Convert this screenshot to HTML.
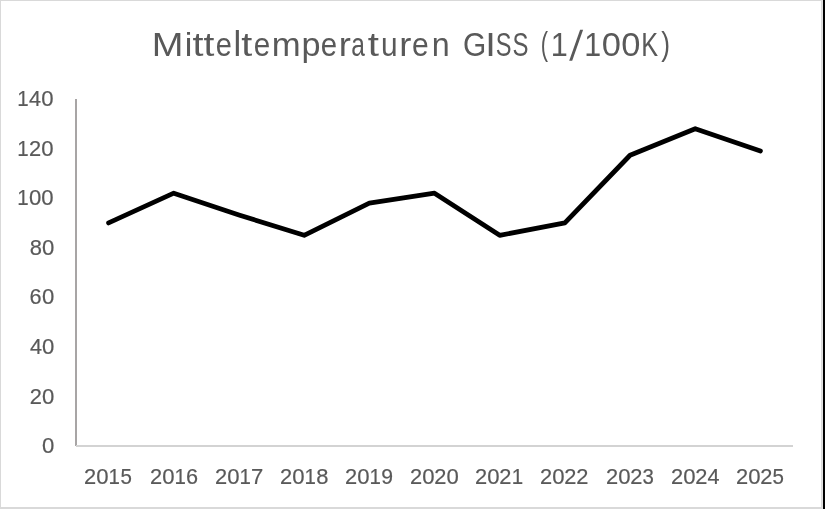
<!DOCTYPE html>
<html><head><meta charset="utf-8"><title>Chart</title>
<style>
html,body{margin:0;padding:0;background:#fff;}
body{width:825px;height:509px;overflow:hidden;}
svg{display:block;}
.g{will-change:transform;}
text{font-family:"Liberation Sans",sans-serif;fill:#595959;}
.lb{font-size:21.5px;stroke:#595959;stroke-width:0.2px;}
.tt{font-size:33.3px;}
</style></head><body>
<svg width="825" height="509" viewBox="0 0 825 509">
<rect x="0" y="0" width="825" height="509" fill="#ffffff"/>
<!-- outer borders -->
<rect x="0" y="0" width="823" height="1" fill="#d9d9d9"/>
<rect x="0" y="0" width="1" height="509" fill="#d9d9d9"/>
<rect x="0" y="507" width="823" height="2" fill="#d9d9d9"/>
<rect x="821" y="0" width="1" height="509" fill="#d9d9d9"/>
<rect x="822" y="0" width="1" height="509" fill="#e2e2e2"/>
<rect x="823" y="0" width="2" height="509" fill="#000000"/>
<!-- axes -->
<rect x="75" y="99" width="2" height="347" fill="#a8a5a5"/>
<rect x="76" y="445" width="717" height="2" fill="#d3d3d3"/>
<g class="g">
<!-- title -->
<text class="tt" transform="translate(151.73 55.75) scale(1.1425 1.0000)">M</text>
<text class="tt" transform="translate(184.67 55.75) scale(1.0250 1.0000)">i</text>
<text class="tt" transform="translate(192.40 55.75) scale(1.1877 1.0000)">t</text>
<text class="tt" transform="translate(203.61 55.75) scale(1.1759 1.0000)">t</text>
<text class="tt" transform="translate(215.77 55.75) scale(0.8704 1.0000)">e</text>
<text class="tt" transform="translate(233.61 55.75) scale(1.0421 1.0340)">l</text>
<text class="tt" transform="translate(241.30 55.75) scale(1.1877 1.0000)">t</text>
<text class="tt" transform="translate(253.74 55.75) scale(0.8896 1.0000)">e</text>
<text class="tt" transform="translate(271.70 55.75) scale(1.0415 1.0000)">m</text>
<text class="tt" transform="translate(301.59 55.75) scale(1.0284 1.0000)">p</text>
<text class="tt" transform="translate(320.75 55.75) scale(0.8832 1.0000)">e</text>
<text class="tt" transform="translate(338.68 55.75) scale(1.0931 1.0000)">r</text>
<text class="tt" transform="translate(351.26 55.75) scale(0.7366 1.0000)">a</text>
<text class="tt" transform="translate(367.69 55.75) scale(1.2112 1.0000)">t</text>
<text class="tt" transform="translate(380.96 55.75) scale(0.8978 1.0000)">u</text>
<text class="tt" transform="translate(399.28 55.75) scale(1.0931 1.0000)">r</text>
<text class="tt" transform="translate(412.12 55.75) scale(0.9024 1.0000)">e</text>
<text class="tt" transform="translate(431.86 55.75) scale(0.9685 1.0000)">n</text>
<text class="tt" transform="translate(462.99 55.75) scale(0.8993 1.0000)">G</text>
<text class="tt" transform="translate(485.29 55.75) scale(1.1431 1.0000)">I</text>
<text class="tt" transform="translate(495.63 55.75) scale(0.7094 1.0000)">S</text>
<text class="tt" transform="translate(512.61 55.75) scale(0.7199 1.0000)">S</text>
<text class="tt" transform="translate(540.74 54.76) scale(0.6569 1.0218)">(</text>
<text class="tt" transform="translate(550.67 55.75) scale(0.9194 1.0000)">1</text>
<polygon points="580.1,29.7 583.1,29.7 572.2,60.8 569.2,60.8" fill="#595959"/>
<text class="tt" transform="translate(584.19 55.75) scale(0.9124 1.0000)">1</text>
<text class="tt" transform="translate(601.75 55.75) scale(1.0365 1.0000)">0</text>
<text class="tt" transform="translate(621.15 55.75) scale(1.0365 1.0000)">0</text>
<text class="tt" transform="translate(641.13 55.75) scale(0.7590 1.0000)">K</text>
<text class="tt" transform="translate(661.25 54.76) scale(0.7928 1.0218)">)</text>
<!-- labels -->
<text class="lb" transform="translate(17.22 105.85) scale(0.9547 1.0000)">1</text>
<text class="lb" transform="translate(29.04 105.85) scale(1.0061 1.0000)">4</text>
<text class="lb" transform="translate(41.16 105.85) scale(1.0294 1.0000)">0</text>
<text class="lb" transform="translate(17.22 155.80) scale(0.9547 1.0000)">1</text>
<text class="lb" transform="translate(28.94 155.80) scale(1.0159 1.0000)">2</text>
<text class="lb" transform="translate(41.16 155.80) scale(1.0294 1.0000)">0</text>
<text class="lb" transform="translate(17.22 204.80) scale(0.9547 1.0000)">1</text>
<text class="lb" transform="translate(29.10 204.80) scale(1.0294 1.0000)">0</text>
<text class="lb" transform="translate(41.16 204.80) scale(1.0294 1.0000)">0</text>
<text class="lb" transform="translate(29.79 254.80) scale(1.0210 1.0000)">8</text>
<text class="lb" transform="translate(42.06 254.80) scale(1.0294 1.0000)">0</text>
<text class="lb" transform="translate(29.62 303.80) scale(1.0100 1.0000)">6</text>
<text class="lb" transform="translate(42.06 303.80) scale(1.0294 1.0000)">0</text>
<text class="lb" transform="translate(29.94 353.70) scale(1.0061 1.0000)">4</text>
<text class="lb" transform="translate(42.06 353.70) scale(1.0294 1.0000)">0</text>
<text class="lb" transform="translate(29.84 403.70) scale(1.0159 1.0000)">2</text>
<text class="lb" transform="translate(42.06 403.70) scale(1.0294 1.0000)">0</text>
<text class="lb" transform="translate(42.06 452.70) scale(1.0294 1.0000)">0</text>
<text class="lb" transform="translate(84.10 483.70) scale(1.0159 1.0000)">2</text>
<text class="lb" transform="translate(96.32 483.70) scale(1.0294 1.0000)">0</text>
<text class="lb" transform="translate(108.56 483.70) scale(0.9547 1.0000)">1</text>
<text class="lb" transform="translate(120.44 483.70) scale(0.9555 1.0000)">5</text>
<text class="lb" transform="translate(150.12 483.70) scale(1.0159 1.0000)">2</text>
<text class="lb" transform="translate(162.34 483.70) scale(1.0294 1.0000)">0</text>
<text class="lb" transform="translate(174.58 483.70) scale(0.9547 1.0000)">1</text>
<text class="lb" transform="translate(186.08 483.70) scale(1.0100 1.0000)">6</text>
<text class="lb" transform="translate(215.12 483.70) scale(1.0159 1.0000)">2</text>
<text class="lb" transform="translate(227.34 483.70) scale(1.0294 1.0000)">0</text>
<text class="lb" transform="translate(239.58 483.70) scale(0.9547 1.0000)">1</text>
<text class="lb" transform="translate(251.05 483.70) scale(1.0252 1.0000)">7</text>
<text class="lb" transform="translate(280.12 483.70) scale(1.0159 1.0000)">2</text>
<text class="lb" transform="translate(292.34 483.70) scale(1.0294 1.0000)">0</text>
<text class="lb" transform="translate(304.58 483.70) scale(0.9547 1.0000)">1</text>
<text class="lb" transform="translate(316.25 483.70) scale(1.0210 1.0000)">8</text>
<text class="lb" transform="translate(345.12 483.70) scale(1.0159 1.0000)">2</text>
<text class="lb" transform="translate(357.34 483.70) scale(1.0294 1.0000)">0</text>
<text class="lb" transform="translate(369.58 483.70) scale(0.9547 1.0000)">1</text>
<text class="lb" transform="translate(381.31 483.70) scale(0.9868 1.0000)">9</text>
<text class="lb" transform="translate(410.12 483.70) scale(1.0159 1.0000)">2</text>
<text class="lb" transform="translate(422.34 483.70) scale(1.0294 1.0000)">0</text>
<text class="lb" transform="translate(434.24 483.70) scale(1.0159 1.0000)">2</text>
<text class="lb" transform="translate(446.46 483.70) scale(1.0294 1.0000)">0</text>
<text class="lb" transform="translate(475.12 483.70) scale(1.0159 1.0000)">2</text>
<text class="lb" transform="translate(487.34 483.70) scale(1.0294 1.0000)">0</text>
<text class="lb" transform="translate(499.24 483.70) scale(1.0159 1.0000)">2</text>
<text class="lb" transform="translate(511.64 483.70) scale(0.9547 1.0000)">1</text>
<text class="lb" transform="translate(540.12 483.70) scale(1.0159 1.0000)">2</text>
<text class="lb" transform="translate(552.34 483.70) scale(1.0294 1.0000)">0</text>
<text class="lb" transform="translate(564.24 483.70) scale(1.0159 1.0000)">2</text>
<text class="lb" transform="translate(576.30 483.70) scale(1.0159 1.0000)">2</text>
<text class="lb" transform="translate(606.10 483.70) scale(1.0159 1.0000)">2</text>
<text class="lb" transform="translate(618.32 483.70) scale(1.0294 1.0000)">0</text>
<text class="lb" transform="translate(630.22 483.70) scale(1.0159 1.0000)">2</text>
<text class="lb" transform="translate(642.49 483.70) scale(0.9496 1.0000)">3</text>
<text class="lb" transform="translate(671.10 483.70) scale(1.0159 1.0000)">2</text>
<text class="lb" transform="translate(683.32 483.70) scale(1.0294 1.0000)">0</text>
<text class="lb" transform="translate(695.22 483.70) scale(1.0159 1.0000)">2</text>
<text class="lb" transform="translate(707.38 483.70) scale(1.0061 1.0000)">4</text>
<text class="lb" transform="translate(736.10 483.70) scale(1.0159 1.0000)">2</text>
<text class="lb" transform="translate(748.32 483.70) scale(1.0294 1.0000)">0</text>
<text class="lb" transform="translate(760.22 483.70) scale(1.0159 1.0000)">2</text>
<text class="lb" transform="translate(772.44 483.70) scale(0.9555 1.0000)">5</text>
</g>
<!-- series -->
<polyline points="108.59,222.93 173.77,193.19 238.95,215.00 304.14,235.32 369.32,203.10 434.50,193.19 499.68,235.32 564.86,222.93 630.05,155.26 695.23,128.74 760.41,151.05" fill="none" stroke="#000000" stroke-width="4.8" stroke-linecap="round" stroke-linejoin="round"/>
</svg>
</body></html>
